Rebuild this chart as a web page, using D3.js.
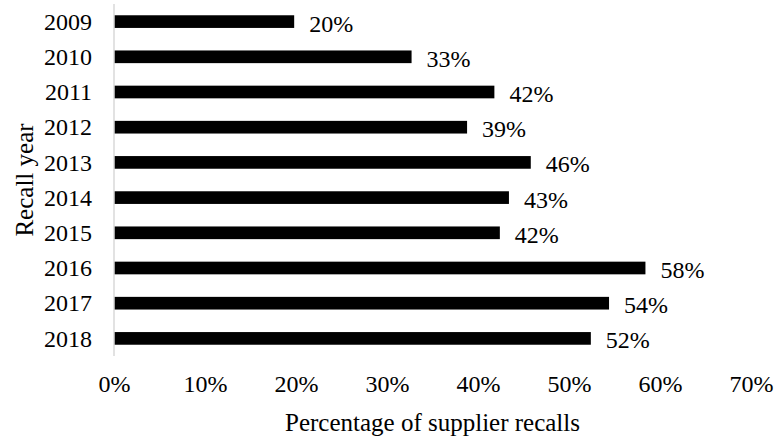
<!DOCTYPE html>
<html>
<head>
<meta charset="utf-8">
<script src="https://cdn.jsdelivr.net/npm/d3@7/dist/d3.min.js"></script>
<style>
  html, body { margin: 0; padding: 0; background: #fff; }
  svg { display: block; }
  svg text { font-family: "Liberation Serif", "Times New Roman", Times, serif !important; fill: #000; }
</style>
</head>
<body>
<svg id="chart" width="776" height="442"></svg>
<script>
// Share of recalls initiated by suppliers, per recall year
const years = ["2009", "2010", "2011", "2012", "2013", "2014", "2015", "2016", "2017", "2018"];
const shares = [0.198, 0.327, 0.418, 0.388, 0.458, 0.434, 0.424, 0.584, 0.544, 0.524];
const xTicks = [0, 0.1, 0.2, 0.3, 0.4, 0.5, 0.6, 0.7];

const svg = d3.select("#chart");
const margin = { left: 114, right: 25, top: 4, bottom: 86 };
const W = 776, H = 442;
const FS = "24px";

const x = d3.scaleLinear().domain([0, 0.7]).range([margin.left, W - margin.right]);
const y = d3.scaleBand().domain(years).range([margin.top, H - margin.bottom]).paddingInner(0.64).paddingOuter(0.32);

const pct = d3.format(".0%");
const rows = years.map((yr, i) => ({ yr, v: shares[i] }));

// bars
svg.append("g").selectAll("rect")
  .data(rows)
  .join("rect")
  .attr("x", x(0))
  .attr("y", d => y(d.yr))
  .attr("width", d => x(d.v) - x(0))
  .attr("height", y.bandwidth())
  .attr("fill", "#000");

// vertical category axis line
svg.append("line")
  .attr("x1", x(0)).attr("x2", x(0))
  .attr("y1", margin.top).attr("y2", H - margin.bottom)
  .attr("stroke", "#d9d9d9").attr("stroke-width", 1.5);

// category axis
const yAxis = svg.append("g")
  .attr("transform", `translate(${x(0)},0)`)
  .call(d3.axisLeft(y).tickSize(0).tickPadding(22));
yAxis.attr("font-family", null);
yAxis.select(".domain").remove();
yAxis.selectAll("text")
  .style("font-size", FS)
  .attr("dy", "0.34em");

// value axis (labels only)
const xAxis = svg.append("g")
  .attr("transform", `translate(0,${H - margin.bottom})`)
  .call(d3.axisBottom(x).tickValues(xTicks).tickFormat(pct).tickSize(0).tickPadding(19));
xAxis.attr("font-family", null);
xAxis.select(".domain").remove();
xAxis.selectAll("text")
  .style("font-size", FS);

// value labels
svg.append("g").selectAll("text")
  .data(rows)
  .join("text")
  .attr("x", d => x(d.v) + 15)
  .attr("y", d => y(d.yr) + y.bandwidth() / 2)
  .attr("dy", "0.42em")
  .style("font-size", FS)
  .text(d => pct(d.v));

// axis titles
svg.append("text")
  .attr("x", (x(0) + x(0.7)) / 2)
  .attr("y", 431)
  .attr("text-anchor", "middle")
  .style("font-size", "25px")
  .text("Percentage of supplier recalls");

svg.append("text")
  .attr("transform", `translate(33,${(margin.top + H - margin.bottom) / 2}) rotate(-90)`)
  .attr("text-anchor", "middle")
  .style("font-size", "25px")
  .text("Recall year");
</script>
</body>
</html>
